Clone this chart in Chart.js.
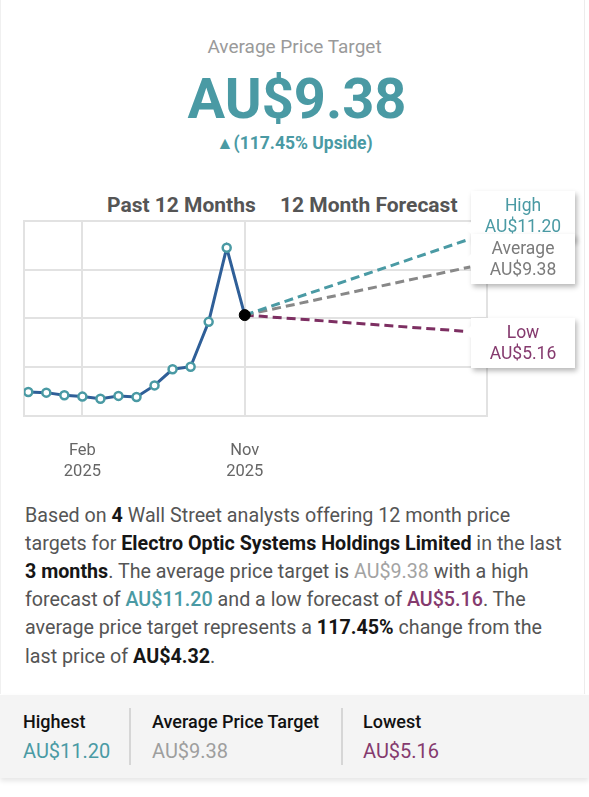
<!DOCTYPE html>
<html>
<head>
<meta charset="utf-8">
<script src="https://cdn.jsdelivr.net/npm/chart.js@4/dist/chart.umd.min.js"></script>
<style>
  html, body { margin:0; padding:0; background:#fff; }
  body { width:589px; height:797px; position:relative; overflow:hidden; font-family: Roboto, "Noto Sans", sans-serif; }
  .abs { position:absolute; white-space:nowrap; }
  #card { position:absolute; left:0; top:0; width:583px; height:694px; border-left:1px solid #f0f0f0; border-right:1px solid #ececec; }
  #hdr1 { left:0; width:589px; text-align:center; top:36px; font-size:19px; line-height:22px; color:#9a9a9a; }
  #hdr2 { left:0; width:594px; text-align:center; top:67px; font-size:56px; line-height:64px; font-weight:700; color:#4a9aa4; }
  #hdr3 { left:0; width:589px; text-align:center; top:133px; font-size:17.5px; line-height:20px; font-weight:700; color:#4a9aa4; }
  .sec { top:193px; font-size:21px; line-height:24px; font-weight:700; color:#555; }
  #chartWrap { position:absolute; left:0; top:190px; width:589px; height:300px; }
  .lbl { position:absolute; width:104px; height:50px; background:#fff; box-shadow: 2px 3px 5px rgba(0,0,0,0.28); text-align:center; font-size:17.5px; line-height:21px; padding-top:4px; box-sizing:border-box; }
  .lbl::before { content:""; position:absolute; left:-6px; width:0; height:0; border-top:6px solid transparent; border-bottom:6px solid transparent; border-right:6px solid #fff; top:var(--ny); }
  #para { left:25px; top:501.5px; font-size:19.7px; line-height:28.2px; color:#555; }
  #para b { color:#161616; font-weight:700; }
  #panel { position:absolute; left:0; top:695px; width:589px; height:83px; background:#f4f4f4; box-shadow:0 3px 5px rgba(0,0,0,0.10); }
  .tl { top:711px; font-size:18px; line-height:22px; font-weight:500; color:#111; }
  .tv { top:739px; font-size:20px; line-height:24px; }
  .div { position:absolute; top:708px; width:2px; height:57px; background:#d6d6d6; }
</style>
</head>
<body>
<div id="card"></div>
<div class="abs" id="hdr1">Average Price Target</div>
<div class="abs" id="hdr2">AU$9.38</div>
<div class="abs" id="hdr3">▲(117.45% Upside)</div>
<div class="abs sec" style="left:107px;">Past 12 Months</div>
<div class="abs sec" style="left:280px;">12 Month Forecast</div>

<div id="chartWrap"><canvas id="c" width="589" height="300"></canvas></div>

<div class="lbl" id="lblHigh" style="left:471px; top:191px; color:#4a9aa4; --ny:31px; z-index:2;">High<br>AU$11.20</div>
<div class="lbl" id="lblAvg" style="left:471px; top:234px; color:#7b7b7b; --ny:20px; z-index:3;">Average<br>AU$9.38</div>
<div class="lbl" id="lblLow" style="left:471px; top:318px; color:#853a6e; --ny:8px; z-index:2;">Low<br>AU$5.16</div>

<div class="abs" id="para">Based on <b>4</b> Wall Street analysts offering 12 month price<br>targets for <b>Electro Optic Systems Holdings Limited</b> in the last<br><b>3 months</b>. The average price target is <span style="color:#a3a3a3">AU$9.38</span> with a high<br>forecast of <span style="color:#4a9aa4;font-weight:500">AU$11.20</span> and a low forecast of <span style="color:#853a6e;font-weight:500">AU$5.16</span>. The<br>average price target represents a <b>117.45%</b> change from the<br>last price of <b>AU$4.32</b>.</div>

<div id="panel"></div>
<div class="div" style="left:129px;"></div>
<div class="div" style="left:341px;"></div>
<div class="abs tl" style="left:23px;">Highest</div>
<div class="abs tv" style="left:23px; color:#4a9aa4;">AU$11.20</div>
<div class="abs tl" style="left:152px;">Average Price Target</div>
<div class="abs tv" style="left:152px; color:#9e9e9e;">AU$9.38</div>
<div class="abs tl" style="left:363px;">Lowest</div>
<div class="abs tv" style="left:363px; color:#853a6e;">AU$5.16</div>

<script>
// ---- data ----
const months = ["Nov 2024","Dec 2024","Jan 2025","Feb 2025","Mar 2025","Apr 2025","May 2025","Jun 2025","Jul 2025","Aug 2025","Sep 2025","Oct 2025","Nov 2025"];
const prices = [1.03, 1.00, 0.89, 0.83, 0.74, 0.86, 0.81, 1.31, 2.00, 2.11, 4.03, 7.20, 4.32];
// forecast line end positions as drawn (month index 24.5 = label boxes)
const forecastX = [12, 24.5];
const highLine = [4.32, 7.58];
const avgLine = [4.32, 6.38];
const lowLine = [4.32, 3.61];
const xTickValues = [3, 12];
const xTickLabels = [["Feb","2025"],["Nov","2025"]];
const yGridValues = [0, 2.09, 4.18, 6.27, 8.36];

const X_MIN = -0.237, X_MAX = 25.43;
const teal = "#4a9aa4", gridC = "#e2e2e2";
const lastIdx = prices.length - 1;

const pricePts = prices.map((v, i) => ({x: i, y: v}));
const mk = arr => arr.map((v, i) => ({x: forecastX[i], y: v}));

new Chart(document.getElementById("c"), {
  type: "line",
  data: {
    datasets: [
      {
        label: "Price",
        data: pricePts,
        borderColor: "#2f5f98",
        borderWidth: 3,
        tension: 0,
        pointRadius: ctx => ctx.dataIndex === lastIdx ? 5.5 : 4,
        pointBorderWidth: ctx => ctx.dataIndex === lastIdx ? 1 : 2.5,
        pointBackgroundColor: ctx => ctx.dataIndex === lastIdx ? "#000" : "#fff",
        pointBorderColor: ctx => ctx.dataIndex === lastIdx ? "#000" : teal
      },
      { label: "High", data: mk(highLine), borderColor: teal, borderWidth: 3, borderDash: [9,5], pointRadius: 0 },
      { label: "Average", data: mk(avgLine), borderColor: "#888888", borderWidth: 3, borderDash: [9,5], pointRadius: 0 },
      { label: "Low", data: mk(lowLine), borderColor: "#7d2f62", borderWidth: 3, borderDash: [9,5], pointRadius: 0 }
    ]
  },
  options: {
    responsive: false,
    animation: false,
    events: [],
    layout: { padding: { left: 20.7, top: 30.7, right: 102, bottom: 0 } },
    plugins: { legend: { display: false }, tooltip: { enabled: false } },
    scales: {
      x: {
        type: "linear",
        min: X_MIN, max: X_MAX,
        afterBuildTicks: s => { s.ticks = [X_MIN, ...xTickValues, X_MAX].map(v => ({value: v})); },
        afterFit: s => { s.height = 74; },
        ticks: {
          autoSkip: false, maxRotation: 0, padding: 24,
          color: "#666", font: { family: "Roboto", size: 16.5, lineHeight: 1.3 },
          callback: v => { const k = xTickValues.indexOf(v); return k >= 0 ? xTickLabels[k] : ""; }
        },
        grid: { color: gridC, lineWidth: 2, drawTicks: false },
        border: { color: gridC, width: 2 }
      },
      y: {
        min: 0, max: 8.36,
        afterBuildTicks: s => { s.ticks = yGridValues.map(v => ({value: v})); },
        afterFit: s => { s.width = 0; },
        ticks: { display: false },
        grid: { color: gridC, lineWidth: 2, drawTicks: false },
        border: { color: gridC, width: 2 }
      }
    }
  }
});
</script>
</body>
</html>
